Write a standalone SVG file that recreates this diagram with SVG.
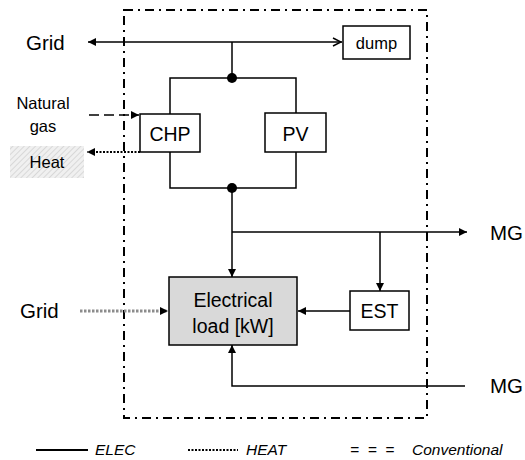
<svg xmlns="http://www.w3.org/2000/svg" width="525" height="460" viewBox="0 0 525 460">
<style>
.t{font-family:"Liberation Sans",Arial,sans-serif;fill:#000}
.box{fill:#fff;stroke:#000;stroke-width:1.5}
.ln{fill:none;stroke:#000;stroke-width:1.5}
.lg{font-family:"Liberation Sans",Arial,sans-serif;font-style:italic;font-size:15.5px;fill:#000}
</style>
<defs>
<marker id="af" viewBox="0 0 10 10" refX="10" refY="5" markerWidth="8" markerHeight="8" markerUnits="userSpaceOnUse" orient="auto"><path d="M0,0 L10,5 L0,10 Z" fill="#000"/></marker>
<marker id="ao" viewBox="0 0 10 10" refX="10" refY="5" markerWidth="10" markerHeight="10" markerUnits="userSpaceOnUse" orient="auto"><path d="M1,1 L9,5 L1,9" fill="none" stroke="#000" stroke-width="1.5"/></marker>
<pattern id="hatch" width="4" height="4" patternUnits="userSpaceOnUse" patternTransform="rotate(45)"><rect width="4" height="4" fill="#f0f0f0"/><line x1="0" y1="0" x2="0" y2="4" stroke="#c8c8c8" stroke-width="1.2"/></pattern>
</defs>
<rect id="boundary" x="124" y="10" width="303" height="408" fill="none" stroke="#000" stroke-width="2" stroke-dasharray="9,5,2,5"/>
<g id="connectors">
<line class="ln" x1="232" y1="42" x2="88" y2="42" marker-end="url(#af)"/>
<line class="ln" x1="232" y1="42" x2="342" y2="42" marker-end="url(#ao)"/>
<line class="ln" x1="232" y1="42" x2="232" y2="78"/>
<polyline class="ln" points="170,114 170,78 296,78 296,113"/>
<polyline class="ln" points="170,152 170,188 296,188 296,152"/>
<line class="ln" x1="232" y1="188" x2="232" y2="277" marker-end="url(#af)"/>
<line class="ln" x1="232" y1="232" x2="467" y2="232" marker-end="url(#af)"/>
<line class="ln" x1="380" y1="232" x2="380" y2="291" marker-end="url(#af)"/>
<line class="ln" x1="350" y1="311" x2="298" y2="311" marker-end="url(#af)"/>
<polyline class="ln" points="465,386 232,386 232,345" marker-end="url(#af)"/>
<line x1="89" y1="115" x2="139" y2="115" stroke="#000" stroke-width="1.5" stroke-dasharray="10,5" marker-end="url(#af)"/>
<line x1="140" y1="152" x2="87" y2="152" stroke="#000" stroke-width="2" stroke-dasharray="2,1.5" marker-end="url(#af)"/>
<line x1="80" y1="311" x2="168" y2="311" stroke="#8c8c8c" stroke-width="3" stroke-dasharray="2.5,1.5" marker-end="url(#af)"/>
<circle cx="232" cy="78" r="5" fill="#000"/>
<circle cx="232" cy="188" r="5" fill="#000"/>
</g>
<g id="dump"><rect class="box" x="343" y="26" width="67" height="33"/><text class="t" x="376.5" y="49" font-size="16.5" text-anchor="middle">dump</text></g>
<g id="chp"><rect class="box" x="140" y="114" width="60" height="38"/><text class="t" x="170" y="141" font-size="19.5" text-anchor="middle">CHP</text></g>
<g id="pv"><rect class="box" x="265" y="113" width="61" height="39"/><text class="t" x="295.5" y="141" font-size="19.5" text-anchor="middle">PV</text></g>
<g id="load"><rect x="169" y="277" width="128" height="68" fill="#d9d9d9" stroke="#000" stroke-width="1.5"/><text class="t" x="233" y="307" font-size="19.5" text-anchor="middle">Electrical</text><text class="t" x="233" y="333" font-size="19.5" text-anchor="middle">load [kW]</text></g>
<g id="est"><rect class="box" x="350" y="291" width="59" height="39"/><text class="t" x="379.5" y="318" font-size="19.5" text-anchor="middle">EST</text></g>
<g id="grid-top"><text class="t" x="26" y="50" font-size="20.5">Grid</text></g>
<g id="natural-gas"><text class="t" x="43" y="109" font-size="16.5" text-anchor="middle">Natural</text><text class="t" x="43" y="132" font-size="16.5" text-anchor="middle">gas</text></g>
<g id="heat"><rect x="10" y="146" width="74" height="32" fill="url(#hatch)"/><text class="t" x="47" y="168" font-size="16.5" text-anchor="middle">Heat</text></g>
<g id="grid-left"><text class="t" x="20" y="318" font-size="20.5">Grid</text></g>
<g id="mg-top"><text class="t" x="490" y="240" font-size="20.5">MG</text></g>
<g id="mg-bottom"><text class="t" x="490" y="393" font-size="20.5">MG</text></g>
<g id="legend">
<line x1="36" y1="450" x2="88" y2="450" stroke="#000" stroke-width="2"/>
<text class="lg" x="95" y="455">ELEC</text>
<line x1="188" y1="450" x2="238" y2="450" stroke="#000" stroke-width="2" stroke-dasharray="2,1.5"/>
<text class="lg" x="246" y="455">HEAT</text>
<text class="lg" x="350" y="455" xml:space="preserve">=  =  =</text>
<text class="lg" x="412" y="455">Conventional</text>
</g>
</svg>
